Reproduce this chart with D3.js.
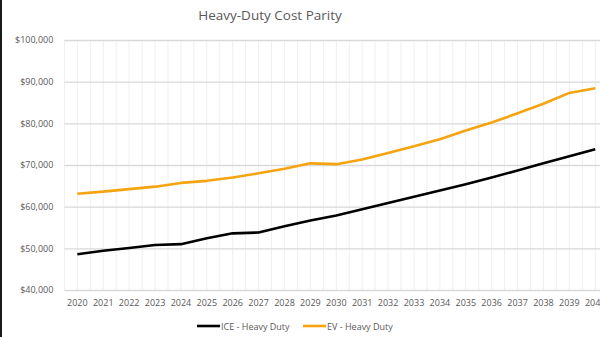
<!DOCTYPE html>
<html>
<head>
<meta charset="utf-8">
<script src="https://cdn.jsdelivr.net/npm/d3@7"></script>
<style>
  html, body { margin: 0; padding: 0; background: #fff; overflow: hidden; }
  svg { display: block; font-family: "Open Sans", "Liberation Sans", sans-serif; }
</style>
</head>
<body>
<svg id="chart" width="600" height="337"></svg>
<script>
const years = ["2020","2021","2022","2023","2024","2025","2026","2027","2028","2029","2030",
               "2031","2032","2033","2034","2035","2036","2037","2038","2039","2040"];
const iceValues = [48600, 49400, 50100, 50800, 51000, 52400, 53600, 53800, 55300, 56700, 57900,
                   59400, 60900, 62400, 63900, 65400, 67000, 68700, 70400, 72100, 73800];
const evValues  = [63100, 63600, 64200, 64800, 65700, 66200, 67000, 68000, 69100, 70400, 70200,
                   71300, 72900, 74500, 76200, 78300, 80200, 82400, 84700, 87300, 88400];
const yTicks = [40000, 50000, 60000, 70000, 80000, 90000, 100000];
const seriesNames = ["ICE - Heavy Duty", "EV - Heavy Duty"];
const seriesColors = ["#000000", "#f5a30f"];

const svg = d3.select("#chart");
const textColor = "#595959";

const x = d3.scaleBand().domain(years).range([64.4, 608.2]).padding(0);
const cx = d => x(d) + x.bandwidth() / 2;
const y = d3.scaleLinear().domain([40000, 100000]).range([290, 40]);

// dark edge on the left
svg.append("rect").attr("x", 0).attr("y", 0).attr("width", 2).attr("height", 337).attr("fill", "#1a1a1a");

// title
svg.append("text")
  .attr("x", 270).attr("y", 20)
  .attr("text-anchor", "middle")
  .attr("fill", textColor)
  .attr("font-size", 13.5)
  .text("Heavy-Duty Cost Parity");

// vertical gridlines at every half category
const vLines = [];
years.forEach(d => { vLines.push(x(d)); vLines.push(cx(d)); });
vLines.push(x(years[years.length - 1]) + x.bandwidth());
svg.append("g").selectAll("line").data(vLines).join("line")
  .attr("x1", d => d).attr("x2", d => d)
  .attr("y1", y(100000)).attr("y2", y(40000))
  .attr("stroke", "#efefef").attr("stroke-width", 1);

// horizontal gridlines + y labels
const yAxis = d3.axisLeft(y).tickValues(yTicks)
  .tickFormat(d => "$" + d3.format(",")(d))
  .tickSize(-(608.2 - 64.4)).tickPadding(11);
const gy = svg.append("g").attr("transform", "translate(64.4,0)").call(yAxis);
gy.select(".domain").remove();
gy.selectAll(".tick line").attr("stroke", "#d9d9d9").attr("stroke-width", 1.3);
gy.selectAll(".tick text").attr("fill", textColor).attr("font-size", 9)
  .attr("font-family", "Open Sans, sans-serif");

// x labels
const xAxis = d3.axisBottom(x).tickSize(0).tickPadding(10);
const gx = svg.append("g").attr("transform", "translate(0,290)").call(xAxis);
gx.select(".domain").remove();
gx.selectAll(".tick text").attr("fill", textColor).attr("font-size", 9)
  .attr("font-family", "Open Sans, sans-serif");

// series lines
const line = d3.line().x((d, i) => cx(years[i])).y(d => y(d));
[iceValues, evValues].forEach((vals, k) => {
  svg.append("path").datum(vals)
    .attr("d", line)
    .attr("fill", "none")
    .attr("stroke", seriesColors[k])
    .attr("stroke-width", 2.6)
    .attr("stroke-linejoin", "round");
});

// legend
const legendX = [197, 303];
const legend = svg.append("g");
seriesNames.forEach((name, k) => {
  const g = legend.append("g").attr("transform", `translate(${legendX[k]},326)`);
  g.append("line").attr("x1", 0).attr("x2", 23).attr("y1", 0).attr("y2", 0)
    .attr("stroke", seriesColors[k]).attr("stroke-width", 2.6);
  g.append("text").attr("x", 24).attr("y", 3.5)
    .attr("fill", textColor).attr("font-size", 9)
    .text(name);
});
</script>
</body>
</html>
